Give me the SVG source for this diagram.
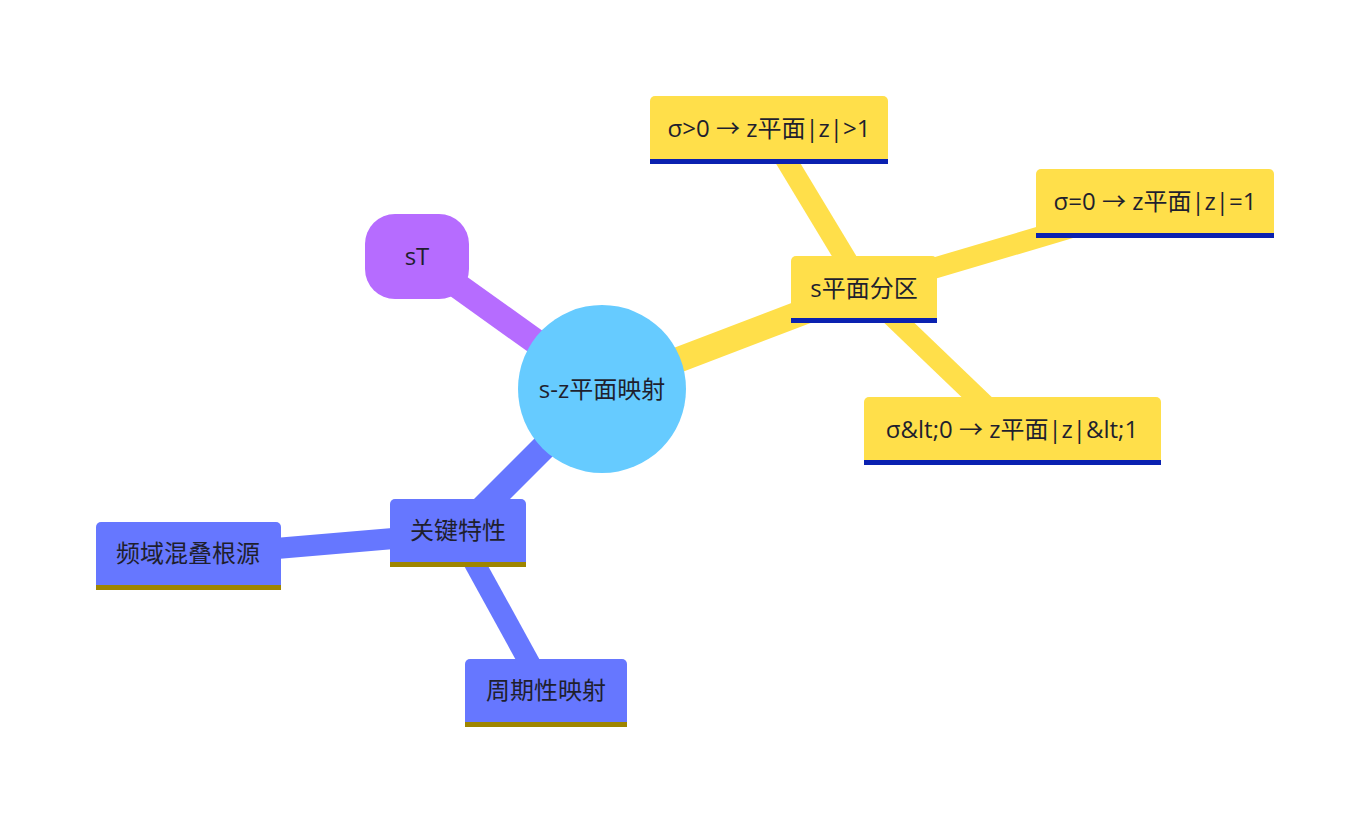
<svg xmlns="http://www.w3.org/2000/svg" width="1370" height="820" viewBox="0 0 1370 820">
<style>
.t{font-family:"Open Sans","Noto Sans CJK SC",sans-serif;font-size:24px;fill:#1f1f2e;text-anchor:middle;dominant-baseline:central}
.e{fill:none;stroke-linecap:butt}
.r{stroke-width:25.5}.c{stroke-width:21}
.y{fill:#ffdf4a}.b{fill:#6677ff}
.yl{fill:#0a21b0}.bl{fill:#9e8500}
</style>
<rect width="1370" height="820" fill="#fff"/>
<g id="connectors">
<line class="e r" x1="416" y1="256" x2="602" y2="389" stroke="#b66cff"/>
<line class="e r" x1="602" y1="389" x2="864" y2="289" stroke="#ffdf4a"/>
<line class="e r" x1="602" y1="389" x2="458" y2="533" stroke="#6677ff"/>
<line class="e c" x1="864" y1="289" x2="768" y2="130" stroke="#ffdf4a"/>
<line class="e c" x1="864" y1="289" x2="1154" y2="203" stroke="#ffdf4a"/>
<line class="e c" x1="864" y1="289" x2="1012" y2="431" stroke="#ffdf4a"/>
<line class="e c" x1="458" y1="533" x2="188" y2="556" stroke="#6677ff"/>
<line class="e c" x1="458" y1="533" x2="546" y2="693" stroke="#6677ff"/>
</g>
<g id="root">
<circle cx="602" cy="389" r="84" fill="#66cbff"/>
<text class="t" x="602" y="388">s-z平面映射</text>
</g>
<g id="sT">
<rect x="365" y="214" width="104" height="85" rx="30" fill="#b66cff"/>
<text class="t" x="417" y="255">sT</text>
</g>
<g id="s-plane">
<path class="y" d="M791 323V261a5 5 0 0 1 5-5H932a5 5 0 0 1 5 5V323Z"/>
<rect class="yl" x="791" y="318" width="146" height="5"/>
<text class="t" x="864" y="287">s平面分区</text>
</g>
<g id="sigma-pos">
<path class="y" d="M650 164V101a5 5 0 0 1 5-5H883a5 5 0 0 1 5 5V164Z"/>
<rect class="yl" x="650" y="159" width="238" height="5"/>
<text class="t" x="769" y="127">σ&gt;0 → z平面|z|&gt;1</text>
</g>
<g id="sigma-zero">
<path class="y" d="M1036 238V174a5 5 0 0 1 5-5H1269a5 5 0 0 1 5 5V238Z"/>
<rect class="yl" x="1036" y="233" width="238" height="5"/>
<text class="t" x="1155" y="200">σ=0 → z平面|z|=1</text>
</g>
<g id="sigma-neg">
<path class="y" d="M864 465V402a5 5 0 0 1 5-5H1156a5 5 0 0 1 5 5V465Z"/>
<rect class="yl" x="864" y="460" width="297" height="5"/>
<text class="t" x="1012" y="428">σ&amp;lt;0 → z平面|z|&amp;lt;1</text>
</g>
<g id="key">
<path class="b" d="M390 567V504a5 5 0 0 1 5-5H521a5 5 0 0 1 5 5V567Z"/>
<rect class="bl" x="390" y="562" width="136" height="5"/>
<text class="t" x="458" y="529">关键特性</text>
</g>
<g id="alias">
<path class="b" d="M96 590V527a5 5 0 0 1 5-5H276a5 5 0 0 1 5 5V590Z"/>
<rect class="bl" x="96" y="585" width="185" height="5"/>
<text class="t" x="188" y="552">频域混叠根源</text>
</g>
<g id="periodic">
<path class="b" d="M465 727V664a5 5 0 0 1 5-5H622a5 5 0 0 1 5 5V727Z"/>
<rect class="bl" x="465" y="722" width="162" height="5"/>
<text class="t" x="546" y="689">周期性映射</text>
</g>
</svg>
